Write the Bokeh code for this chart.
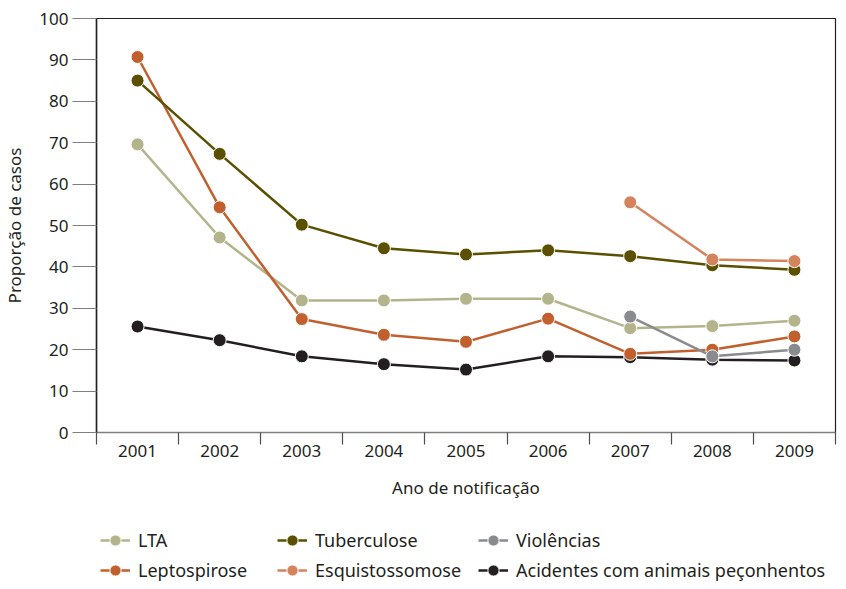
from bokeh.plotting import figure
from bokeh.layouts import column
from bokeh.models import FixedTicker, Legend, LegendItem
from bokeh.embed import file_html
from bokeh.resources import INLINE

nan = float("nan")
years = [2001, 2002, 2003, 2004, 2005, 2006, 2007, 2008, 2009]
lta = [69.6, 47.1, 31.9, 31.9, 32.3, 32.3, 25.2, 25.7, 27.0]
tuberculose = [85.0, 67.3, 50.2, 44.5, 43.0, 44.0, 42.6, 40.4, 39.3]
violencias = [nan, nan, nan, nan, nan, nan, 28.0, 18.4, 20.0]
leptospirose = [90.7, 54.4, 27.4, 23.6, 21.9, 27.5, 19.0, 20.0, 23.2]
esquistossomose = [nan, nan, nan, nan, nan, nan, 55.6, 41.8, 41.4]
acidentes = [25.6, 22.3, 18.4, 16.5, 15.2, 18.4, 18.2, 17.6, 17.4]
y_ticks = list(range(0, 101, 10))

FONT = "Noto Sans"
INK = "#231f20"
W = 838

p = figure(width=W, height=512, x_range=(2000.5, 2009.5), y_range=(0, 100),
           output_backend="svg", toolbar_location=None,
           min_border_left=88, min_border_right=3, min_border_top=18, min_border_bottom=80)
p.grid.visible = False
p.outline_line_color = INK
p.outline_line_width = 1.2

ya = p.yaxis[0]
ya.ticker = FixedTicker(ticks=y_ticks)
ya.major_tick_out = 24
ya.major_tick_in = 0
ya.minor_tick_out = 0
ya.minor_tick_in = 0
ya.major_tick_line_color = "#7f7f7f"
ya.major_tick_line_width = 1.2
ya.axis_line_color = INK
ya.axis_line_width = 1.5
ya.major_label_text_font = FONT
ya.major_label_text_font_size = "17px"
ya.major_label_text_color = INK
ya.major_label_standoff = 4
ya.axis_label = "Proporção de casos"
ya.axis_label_text_font = FONT
ya.axis_label_text_font_style = "normal"
ya.axis_label_text_font_size = "17px"
ya.axis_label_text_color = INK
ya.axis_label_standoff = 10

xa = p.xaxis[0]
xa.ticker = FixedTicker(ticks=years, minor_ticks=[y - 0.5 for y in years] + [years[-1] + 0.5])
xa.major_tick_out = 0
xa.major_tick_in = 0
xa.minor_tick_out = 12
xa.minor_tick_in = 0
xa.minor_tick_line_color = "#4d4d4d"
xa.minor_tick_line_width = 1.2
xa.axis_line_color = "#7f7f7f"
xa.axis_line_width = 1.5
xa.major_label_standoff = 0
xa.major_label_text_font = FONT
xa.major_label_text_font_size = "17px"
xa.major_label_text_color = INK
xa.axis_label = "Ano de notificação"
xa.axis_label_text_font = FONT
xa.axis_label_text_font_style = "normal"
xa.axis_label_text_font_size = "17px"
xa.axis_label_text_color = INK
xa.axis_label_standoff = 16

series = [
    ("LTA", lta, "#b4b48c"),
    ("Acidentes com animais peçonhentos", acidentes, INK),
    ("Leptospirose", leptospirose, "#c1602e"),
    ("Violências", violencias, "#8a8b8f"),
    ("Tuberculose", tuberculose, "#5a5000"),
    ("Esquistossomose", esquistossomose, "#d4835c"),
]

# legend-only figure below the chart (its frame is aligned with the chart's frame)
pl = figure(width=W, height=73, x_range=(2000.5, 2009.5), y_range=(0, 100),
            output_backend="svg", toolbar_location=None,
            x_axis_location=None, y_axis_location=None,
            min_border_left=0, min_border_right=0, min_border_top=0, min_border_bottom=0)
pl.grid.visible = False
pl.outline_line_color = None

leg_rend = {}
for name, vals, col in series:
    p.line(years, vals, line_color=col, line_width=2.5)
    p.scatter(years, vals, size=13, fill_color=col, line_color="white", line_width=1)
    l2 = pl.line(years, vals, line_color=col, line_width=2.5, visible=False)
    c2 = pl.scatter(years, vals, size=13, fill_color=col, line_color="white", line_width=1, visible=False)
    leg_rend[name] = [l2, c2]

columns = [(["LTA", "Leptospirose"], 4),
           (["Tuberculose", "Esquistossomose"], 181),
           (["Violências", "Acidentes com animais peçonhentos"], 382)]
for names, xoff in columns:
    lg = Legend(items=[LegendItem(label=n, renderers=leg_rend[n]) for n in names],
                orientation="vertical", location=(xoff, 1),
                border_line_color=None, background_fill_alpha=0,
                inactive_fill_alpha=0,
                glyph_width=30, glyph_height=28, label_height=28,
                label_standoff=8, spacing=2, padding=0, margin=0,
                label_text_font=FONT, label_text_font_size="18px",
                label_text_color=INK)
    pl.add_layout(lg, "center")

layout = column(p, pl, spacing=0)
open("out.html", "w").write(file_html(layout, INLINE))
